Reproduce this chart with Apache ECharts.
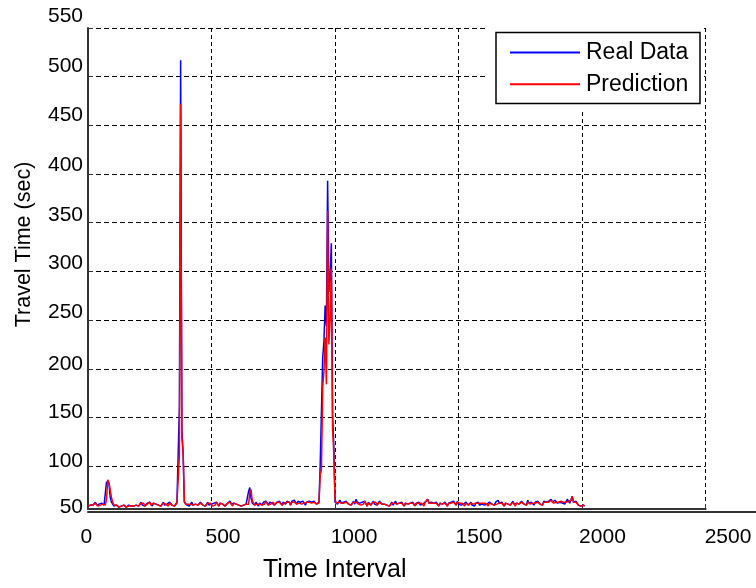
<!DOCTYPE html>
<html>
<head>
<meta charset="utf-8">
<script src="https://cdn.jsdelivr.net/npm/echarts@6/dist/echarts.min.js"></script>
<style>
html,body{margin:0;padding:0;background:#fff;}
#chart{width:756px;height:588px;}
</style>
</head>
<body>
<div id="chart"></div>
<script>
// sampling step of the time-interval axis (one stored value every 5 intervals)
const step = 5;

// Real travel time (sec), time interval 0 .. 2010, one row = 100 intervals
const realData = [
  59,61,60,62,60,61,63,60,59,61,60,62,61,60,61,84,85,82,68,63,
  61,59,58,60,59,58,60,59,58,60,59,58,59,60,58,59,60,59,61,60,
  62,59,61,63,60,62,59,61,62,60,63,61,59,62,60,61,63,60,62,59,
  61,63,60,62,61,59,63,61,60,62,59,61,63,62,161,517,137,113,63,61,
  60,62,59,61,63,60,58,61,62,60,59,63,61,60,62,59,61,63,60,62,
  61,59,62,60,63,61,59,62,60,61,63,59,61,62,60,64,61,59,62,60,
  61,63,60,62,59,61,60,62,61,63,74,78,67,62,62,60,63,61,59,62,
  62,60,63,61,64,62,60,63,61,62,64,60,62,63,61,64,62,60,63,62,
  61,64,62,63,60,64,62,65,63,61,64,62,63,61,64,62,60,63,61,64,
  62,63,61,64,62,61,62,63,102,101,211,228,265,244,393,279,293,329,153,122,
  63,64,61,63,65,62,60,63,61,64,62,61,63,60,62,64,61,66,63,61,
  62,60,63,61,64,62,59,63,61,60,62,64,61,63,60,62,64,66,61,63,
  61,63,60,62,59,61,63,60,62,64,61,59,62,60,63,61,59,62,64,61,
  60,62,61,63,60,59,62,61,63,60,62,61,59,63,65,66,62,60,63,61,
  62,60,63,61,59,62,64,61,60,63,61,59,62,60,63,61,64,62,60,64,
  61,63,60,62,61,59,63,61,60,62,63,60,61,59,62,61,63,60,62,61,
  63,60,62,61,59,63,64,61,62,60,63,61,65,62,60,63,61,59,62,64,
  61,63,60,62,64,61,59,62,63,61,60,64,62,61,63,60,65,62,61,63,
  62,60,63,61,64,62,61,63,60,64,62,63,61,64,62,66,63,62,65,63,
  62,64,63,65,62,64,61,63,66,64,62,65,69,63,61,64,62,60,61,59,
  61,60,59
];

// Predicted travel time (sec), same time intervals
const predData = [
  59,60,60,61,60,61,62,60,59,60,60,61,61,60,60,66,86,83,81,68,
  63,60,58,60,59,58,59,59,58,60,59,58,59,59,58,59,60,59,60,60,
  61,59,61,62,60,62,59,61,61,60,63,60,59,62,60,61,62,60,62,59,
  61,62,60,61,61,59,62,61,60,61,59,61,62,61,111,472,129,115,64,61,
  60,61,59,61,63,60,58,61,61,60,59,62,61,60,62,59,61,62,60,62,
  61,59,61,60,63,61,59,62,60,61,62,59,61,62,60,63,61,59,62,60,
  61,62,60,61,59,61,60,61,61,62,61,73,76,64,62,60,62,61,59,61,
  62,60,62,61,64,62,60,62,61,62,63,60,62,63,61,63,62,60,62,62,
  61,63,62,63,60,63,62,63,63,61,63,62,63,61,63,62,60,63,61,63,
  62,62,61,63,62,61,61,62,92,96,181,197,232,184,362,225,249,303,139,112,
  66,62,61,63,63,62,60,62,61,63,62,61,62,60,62,63,61,63,62,61,
  62,60,62,61,64,62,59,62,61,60,62,63,61,63,60,62,63,64,61,62,
  61,62,60,62,59,61,62,60,62,63,61,59,62,60,62,61,59,62,63,61,
  60,62,61,62,60,59,62,61,62,60,62,61,59,63,65,66,62,60,62,61,
  62,60,62,61,59,62,63,61,60,62,61,59,62,60,62,61,63,62,60,63,
  61,62,60,62,61,59,62,61,60,62,62,60,61,59,62,61,62,60,62,61,
  62,60,62,61,59,62,63,61,62,60,62,61,63,62,60,62,61,59,62,63,
  61,62,60,62,63,61,59,62,62,61,60,63,62,61,62,60,63,62,61,62,
  62,60,62,61,63,62,61,62,60,63,62,63,61,63,62,65,63,62,64,63,
  62,63,63,64,62,63,61,63,65,64,62,65,69,63,61,63,62,60,61,59,
  61,60,59
];

// Tick labels
const xTickValues = [0, 500, 1000, 1500, 2000, 2500];
const yTickLabels = ['50','100','150','200','250','300','350','400','450','500','550'];
const seriesNames = ['Real Data', 'Prediction'];

// label offsets seen in the reference (px)
const xLabelShift = [-1.7, 11.5, 19, 20.4, 20.4, 22.4];
const yLabelLift = [1.5, 5, 5, 4.5, 7.5, 8.5, 8, 9, 10, 10, 12];

const FONT = 'Liberation Sans, Arial, sans-serif';

const toPairs = arr => arr.map((v, i) => [i * step, v]);

const xRich = {};
xLabelShift.forEach((d, i) => {
  xRich['s' + i] = {
    fontSize: 21, lineHeight: 21, color: '#000', fontFamily: FONT,
    padding: d >= 0 ? [0, 0, 0, 2 * d] : [0, -2 * d, 0, 0]
  };
});
const yRich = {};
yLabelLift.forEach((d, i) => {
  yRich['s' + i] = {
    fontSize: 21, lineHeight: 21, color: '#000', fontFamily: FONT,
    padding: d >= 0 ? [0, 0, 2 * d, 0] : [-2 * d, 0, 0, 0]
  };
});

const chart = echarts.init(document.getElementById('chart'), null, {renderer: 'canvas'});
chart.setOption({
  animation: false,
  backgroundColor: '#fff',
  grid: [
    { left: 88, top: 28, width: 617.6, height: 484, containLabel: false },
    { left: 88, top: 28, width: 672, height: 484, containLabel: false }
  ],
  xAxis: [
    {
      type: 'value', gridIndex: 0,
      min: 0, max: 2500, interval: 500,
      name: 'Time Interval',
      nameLocation: 'middle',
      nameGap: 49,
      nameTextStyle: { fontSize: 25, lineHeight: 25, color: '#000', fontFamily: FONT, padding: [0, 124, 0, 0] },
      axisLine: { show: true, lineStyle: { color: '#333', width: 2 } },
      axisTick: { show: true, inside: true, length: 5, lineStyle: { color: '#333', width: 1 } },
      axisLabel: {
        margin: 18,
        fontSize: 21, color: '#000', fontFamily: FONT,
        formatter: v => { const i = xTickValues.indexOf(v); return i < 0 ? '' : '{s' + i + '|' + v + '}'; },
        rich: xRich
      },
      splitLine: { show: true, lineStyle: { color: '#000', width: 1, type: [4, 3] } }
    },
    {
      type: 'value', gridIndex: 1, min: 0, max: 1,
      axisLine: { show: true, lineStyle: { color: '#333', width: 2 } },
      axisTick: { show: false }, axisLabel: { show: false }, splitLine: { show: false }
    }
  ],
  yAxis: [
    {
      type: 'value', gridIndex: 0,
      min: 56, max: 550, splitNumber: 10,
      name: 'Travel Time (sec)',
      nameLocation: 'middle',
      nameGap: 53,
      nameTextStyle: { fontSize: 21.5, lineHeight: 21, color: '#000', fontFamily: FONT, padding: [0, 0, 0, 48] },
      axisLine: { show: true, lineStyle: { color: '#333', width: 2 } },
      axisTick: { show: true, inside: true, length: 5, lineStyle: { color: '#333', width: 1 } },
      axisLabel: {
        margin: 5,
        fontSize: 21, color: '#000', fontFamily: FONT,
        formatter: (v, idx) => '{s' + idx + '|' + (yTickLabels[idx] || '') + '}',
        rich: yRich
      },
      splitLine: { show: true, lineStyle: { color: '#000', width: 1, type: [5, 3] } }
    },
    {
      type: 'value', gridIndex: 1, min: 0, max: 1, show: false
    }
  ],
  legend: {
    data: seriesNames,
    orient: 'vertical',
    left: 510, top: 41,
    padding: 0,
    itemWidth: 70, itemHeight: 2, itemGap: 8.7,
    icon: 'rect',
    selectedMode: false,
    z: 60,
    textStyle: { fontSize: 23, lineHeight: 23, color: '#000', fontFamily: FONT, padding: [0, 0, 0, 1] }
  },
  graphic: [
    { type: 'rect', z: 50, silent: true, shape: { x: 486, y: 0, width: 217, height: 111 }, style: { fill: '#fff' } },
    { type: 'rect', z: 51, silent: true, shape: { x: 496, y: 32.5, width: 204, height: 71 }, style: { fill: 'none', stroke: '#000', lineWidth: 1.5 } }
  ],
  series: [
    {
      name: seriesNames[0], type: 'line', xAxisIndex: 0, yAxisIndex: 0, data: toPairs(realData),
      showSymbol: false, symbol: 'none', z: 2,
      lineStyle: { color: '#0000ff', width: 1.5 }, itemStyle: { color: '#0000ff' }
    },
    {
      name: seriesNames[1], type: 'line', xAxisIndex: 0, yAxisIndex: 0, data: toPairs(predData),
      showSymbol: false, symbol: 'none', z: 3,
      lineStyle: { color: '#ff0000', width: 1.5 }, itemStyle: { color: '#ff0000' }
    }
  ]
});
</script>
</body>
</html>
